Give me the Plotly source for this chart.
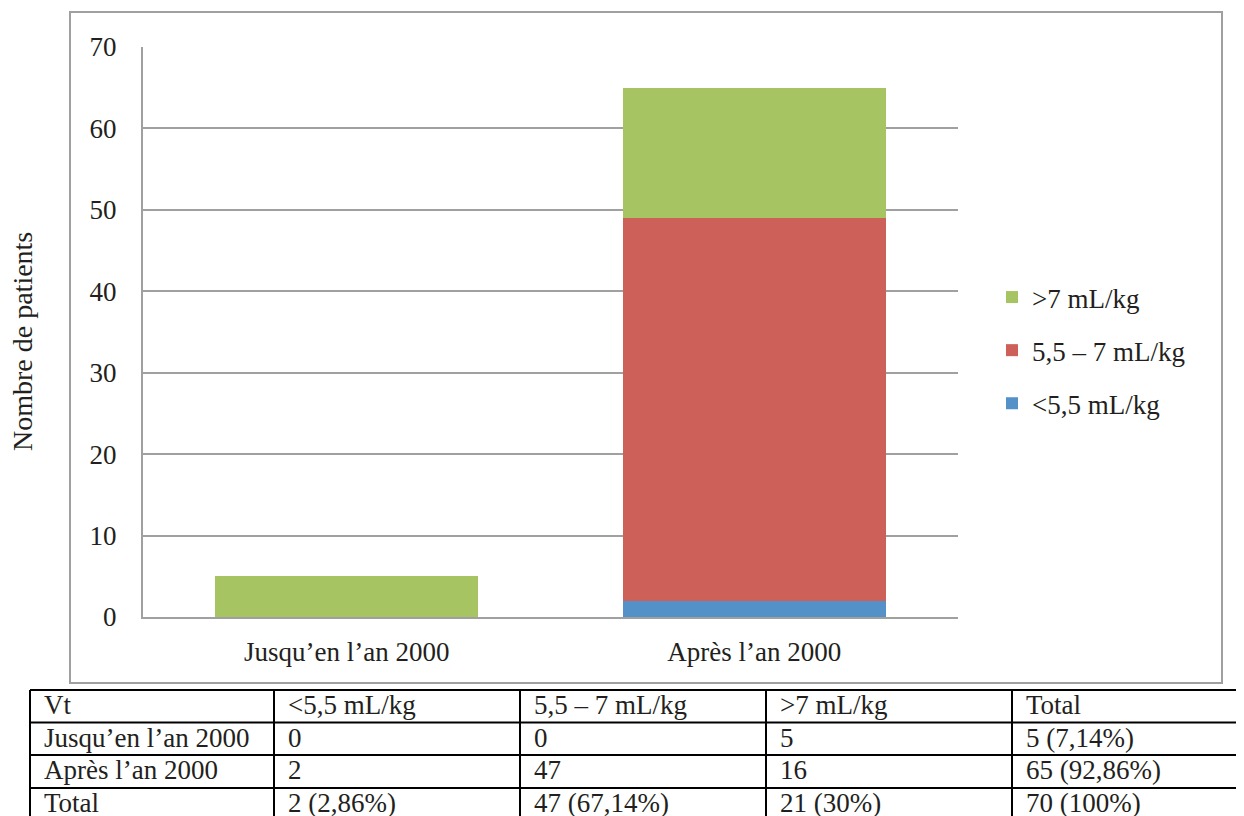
import plotly.graph_objects as go

W, H = 1244, 816
OX, OY = 8, 8  # page body margin offset

categories = ["Jusqu’en l’an 2000", "Après l’an 2000"]
series_names = ["<5,5 mL/kg", "5,5 – 7 mL/kg", ">7 mL/kg"]
vt_lt55 = [0, 2]
vt_55_7 = [0, 47]
vt_gt7 = [5, 16]
colors = ["rgb(84,145,201)", "rgb(205,96,89)", "rgb(167,196,98)"]
legend_ranks = [3, 2, 1]

table_header = ["Vt", "<5,5 mL/kg", "5,5 – 7 mL/kg", ">7 mL/kg", "Total"]
table_rows = [
    ["Jusqu’en l’an 2000", "0", "0", "5", "5 (7,14%)"],
    ["Après l’an 2000", "2", "47", "16", "65 (92,86%)"],
    ["Total", "2 (2,86%)", "47 (67,14%)", "21 (30%)", "70 (100%)"],
]

FONT = "Liberation Serif"
TXT = "#231f20"

def px(x):
    return (x - OX) / W

def py(y):
    return 1 - (y - OY) / H

fig = go.Figure()
for i, (name, vals) in enumerate(zip(series_names, [vt_lt55, vt_55_7, vt_gt7])):
    fig.add_trace(go.Bar(
        x=categories, y=vals, name=name, marker_color=colors[i],
        marker_line_width=0, width=0.645, legendgroup=f"g{i}",
        legendrank=legend_ranks[i],
    ))

shapes = []
annotations = []
shapes.append(dict(type="rect", xref="paper", yref="paper",
                   x0=px(70), x1=px(1222), y0=py(683), y1=py(12),
                   line=dict(color="#a0a0a0", width=2), layer="below"))

col_edges = [30, 274, 520, 766, 1012, 1258]
row_edges = [690, 722.5, 755, 788, 821]
for y in row_edges:
    shapes.append(dict(type="line", xref="paper", yref="paper",
                       x0=px(col_edges[0]), x1=px(col_edges[-1]), y0=py(y), y1=py(y),
                       line=dict(color="black", width=2)))
for x in col_edges:
    shapes.append(dict(type="line", xref="paper", yref="paper",
                       x0=px(x), x1=px(x), y0=py(row_edges[0]), y1=py(row_edges[-1]),
                       line=dict(color="black", width=2)))
all_rows = [table_header] + table_rows
for r, row in enumerate(all_rows):
    yc = row_edges[r] + 15
    for c, txt in enumerate(row):
        annotations.append(dict(xref="paper", yref="paper", x=px(col_edges[c] + 12), y=py(yc),
                                text=txt, showarrow=False, xanchor="left", yanchor="middle",
                                font=dict(family=FONT, size=27, color=TXT)))

annotations.append(dict(xref="paper", yref="paper", x=px(22), y=py(342),
                        text="Nombre de patients", textangle=-90, showarrow=False,
                        xanchor="center", yanchor="middle",
                        font=dict(family=FONT, size=28, color=TXT)))

fig.update_layout(
    width=W, height=H,
    margin=dict(l=0, r=0, t=0, b=0, autoexpand=False),
    paper_bgcolor="white", plot_bgcolor="white",
    barmode="stack", bargap=0.355,
    font=dict(family=FONT, size=27, color=TXT),
    shapes=shapes, annotations=annotations,
    legend=dict(x=px(992), y=py(273), xanchor="left", yanchor="top",
                traceorder="grouped", tracegroupgap=15,
                font=dict(family=FONT, size=27, color=TXT),
                itemwidth=30, bgcolor="rgba(0,0,0,0)"),
    xaxis=dict(domain=[px(143), px(958)], showline=True, linecolor="#a0a0a0", linewidth=2,
               ticks="", ticklabelstandoff=10, showgrid=False, automargin=False,
               tickfont=dict(family=FONT, size=27, color=TXT)),
    yaxis=dict(domain=[py(617), py(47)], range=[0, 70], dtick=10, showline=True,
               linecolor="#a0a0a0", linewidth=2, showgrid=True, gridcolor="#a0a0a0",
               gridwidth=1.5, ticks="", ticklabelstandoff=19, zeroline=False,
               automargin=False,
               tickfont=dict(family=FONT, size=27, color=TXT)),
)

fig.write_html("out.html")
